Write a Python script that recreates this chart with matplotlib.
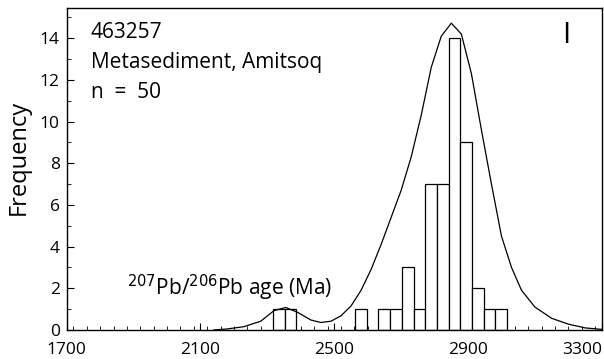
import numpy as np
import matplotlib
matplotlib.use("Agg")
import matplotlib.pyplot as plt
from matplotlib.ticker import MultipleLocator

# histogram, 35 Ma bins (left edges) and counts
bin_left = [2317, 2352, 2562, 2632, 2667, 2702, 2737, 2772, 2807, 2842, 2877, 2912, 2947, 2982]
counts = [1, 1, 1, 1, 1, 3, 1, 7, 7, 14, 9, 2, 1, 1]
bin_width = 35

# probability density curve
curve_age = [2140, 2180, 2230, 2280, 2320, 2355, 2390, 2430, 2460, 2490, 2520, 2550,
             2580, 2610, 2640, 2670, 2700, 2730, 2760, 2790, 2820, 2850, 2880, 2910,
             2940, 2970, 3000, 3030, 3060, 3100, 3150, 3200, 3250, 3300]
curve_freq = [0.0, 0.05, 0.16, 0.42, 0.93, 1.08, 0.85, 0.48, 0.36, 0.42, 0.68, 1.15,
              1.9, 2.9, 4.1, 5.4, 6.7, 8.3, 10.3, 12.6, 14.1, 14.72, 14.2, 12.3,
              9.6, 7.0, 4.5, 3.0, 1.9, 1.1, 0.56, 0.28, 0.1, 0.03]

xticks = [1700, 2100, 2500, 2900, 3300]
yticks = [0, 2, 4, 6, 8, 10, 12, 14]

plt.rcParams["font.family"] = ["Open Sans", "DejaVu Sans"]

fig = plt.figure(figsize=(6.04, 3.59), dpi=100)
ax = fig.add_axes([0.1104, 0.0808, 0.886, 0.897])

ax.bar(bin_left, counts, width=bin_width, align="edge", facecolor="white",
       edgecolor="black", linewidth=0.9, zorder=2)
ax.plot(curve_age, curve_freq, color="black", linewidth=0.9, zorder=3)

ax.set_xlim(1700, 3300)
ax.set_ylim(0, 15.45)
ax.set_xticks(xticks)
ax.set_yticks(yticks)
ax.xaxis.set_minor_locator(MultipleLocator(40))
ax.yaxis.set_minor_locator(MultipleLocator(1))
ax.tick_params(which="both", direction="in", top=False, right=False, labelsize=12.5)
ax.tick_params(axis="x", pad=9)
ax.tick_params(axis="y", pad=5)
ax.tick_params(which="major", length=5, width=0.8)
ax.tick_params(which="minor", length=3, width=0.6)
labels = ax.get_xticklabels()
labels[-1].set_horizontalalignment("right")

for s in ax.spines.values():
    s.set_linewidth(1.0)

ax.set_ylabel("Frequency", fontsize=17)
ax.yaxis.set_label_coords(-0.068, 0.535)

ax.text(0.045, 0.925, "463257", transform=ax.transAxes, fontsize=15, va="center")
ax.text(0.045, 0.832, "Metasediment, Amitsoq", transform=ax.transAxes, fontsize=15, va="center")
ax.text(0.045, 0.739, "n  =  50", transform=ax.transAxes, fontsize=15, va="center")
ax.text(0.926, 0.915, "I", transform=ax.transAxes, fontsize=21, va="center")
ax.text(0.112, 0.13, r"$^{207}$Pb/$^{206}$Pb age (Ma)", transform=ax.transAxes,
        fontsize=15, va="center")

fig.savefig("out.png", dpi=100)
